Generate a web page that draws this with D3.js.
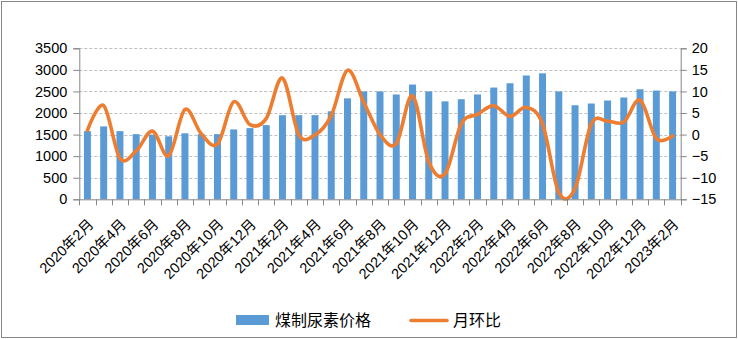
<!DOCTYPE html>
<html><head><meta charset="utf-8">
<script src="https://cdn.jsdelivr.net/npm/d3@7"></script>
<style>
body{margin:0;background:#fff;}
svg{display:block;}
text{font-family:"Liberation Sans","Noto Sans CJK SC",sans-serif;fill:#000;}
</style></head>
<body><svg id="c" width="738" height="339"></svg>
<script>
const categories = ["2020年2月","2020年3月","2020年4月","2020年5月","2020年6月","2020年7月","2020年8月","2020年9月","2020年10月","2020年11月","2020年12月","2021年1月","2021年2月","2021年3月","2021年4月","2021年5月","2021年6月","2021年7月","2021年8月","2021年9月","2021年10月","2021年11月","2021年12月","2022年1月","2022年2月","2022年3月","2022年4月","2022年5月","2022年6月","2022年7月","2022年8月","2022年9月","2022年10月","2022年11月","2022年12月","2023年1月","2023年2月"];
const price = [1580,1690,1580,1510,1500,1460,1530,1510,1510,1620,1650,1720,1950,1950,1950,2040,2340,2500,2500,2430,2660,2500,2270,2320,2430,2590,2690,2870,2920,2500,2180,2220,2290,2360,2550,2520,2500];
const mom = [1.0,6.7,-5.5,-3.8,0.8,-4.9,5.8,0.2,-2.2,7.6,2.3,3.7,13.1,0.0,-0.1,4.4,14.9,7.5,0.0,-2.1,9.0,-6.3,-9.1,2.5,4.7,6.7,4.2,6.3,2.5,-13.4,-12.5,2.5,3.1,2.9,8.0,-0.9,-0.3];
const leftTicks = [0,500,1000,1500,2000,2500,3000,3500];
const rightTicks = [-15,-10,-5,0,5,10,15,20];
const seriesNames = ["煤制尿素价格","月环比"];

const svg = d3.select("#c");
const X0 = 79.3, X1 = 680.7, YT = 48.3, YB = 199.3;
const x = d3.scaleBand().domain(categories).range([X0, X1]).paddingInner(0).paddingOuter(0);
const yL = d3.scaleLinear().domain([0,3500]).range([YB, YT]);
const yR = d3.scaleLinear().domain([-15,20]).range([YB, YT]);

// border
svg.append("rect").attr("x",1.5).attr("y",1.5).attr("width",735).attr("height",336)
  .attr("fill","#fff").attr("stroke","#868686").attr("stroke-width",1);

// gridlines
svg.append("g").selectAll("line").data(leftTicks.slice(1)).join("line")
  .attr("x1",X0).attr("x2",X1).attr("y1",d=>Math.round(yL(d))+0.5).attr("y2",d=>Math.round(yL(d))+0.5)
  .attr("stroke","#bfbfbf").attr("stroke-dasharray","3,2").attr("stroke-width",1);

// bars
const bw = x.bandwidth()*0.43;
svg.append("g").selectAll("rect").data(price).join("rect")
  .attr("x",(d,i)=>x(categories[i])+x.bandwidth()/2-bw/2)
  .attr("width",bw)
  .attr("y",d=>yL(d)).attr("height",d=>YB-yL(d))
  .attr("fill","#5B9BD5");

// line
const line = d3.line().x((d,i)=>x(categories[i])+x.bandwidth()/2).y(d=>yR(d)).curve(d3.curveCardinal.tension(0));
svg.append("path").datum(mom).attr("d",line).attr("fill","none")
  .attr("stroke","#ED7D31").attr("stroke-width",3.6).attr("stroke-linejoin","round").attr("stroke-linecap","round");

// left axis
const axL = svg.append("g").attr("transform",`translate(${X0},0)`)
  .call(d3.axisLeft(yL).tickValues(leftTicks).tickSize(6).tickPadding(6).tickFormat(d3.format("d")));
// right axis
const axR = svg.append("g").attr("transform",`translate(${X1},0)`)
  .call(d3.axisRight(yR).tickValues(rightTicks).tickSize(6).tickPadding(5).tickFormat(d3.format("d")));
// bottom axis
const axB = svg.append("g").attr("transform",`translate(0,${YB})`)
  .call(d3.axisBottom(x).tickSize(0).tickFormat(""));
[axL,axR,axB].forEach(a=>{
  a.select(".domain").attr("stroke","#868686");
  a.selectAll(".tick line").attr("stroke","#868686");
  a.selectAll("text").attr("font-size","14.5px").attr("font-family","Liberation Sans, Noto Sans CJK SC, sans-serif").attr("fill","#000");
});
// bottom boundary ticks
const bounds = d3.range(categories.length+1).map(i=>X0+i*x.bandwidth());
svg.append("g").selectAll("line").data(bounds).join("line")
  .attr("x1",d=>Math.round(d)+0.5).attr("x2",d=>Math.round(d)+0.5).attr("y1",YB).attr("y2",YB+6)
  .attr("stroke","#868686");

// x labels
svg.append("g").selectAll("text").data(categories.filter((c,i)=>i%2===0)).join("text")
  .attr("transform",d=>`translate(${x(d)+x.bandwidth()/2+7},${YB+26}) rotate(-45)`)
  .attr("text-anchor","end").attr("font-size","14.5px").text(d=>d);

// legend
const lg = svg.append("g");
lg.append("rect").attr("x",236).attr("y",315).attr("width",33).attr("height",10).attr("fill","#5B9BD5");
lg.append("text").attr("x",275).attr("y",326).attr("font-size","16px").text(seriesNames[0]);
lg.append("line").attr("x1",411).attr("x2",447).attr("y1",320.5).attr("y2",320.5)
  .attr("stroke","#ED7D31").attr("stroke-width",3.6).attr("stroke-linecap","round");
lg.append("text").attr("x",453).attr("y",326).attr("font-size","16px").text(seriesNames[1]);
</script></body></html>
